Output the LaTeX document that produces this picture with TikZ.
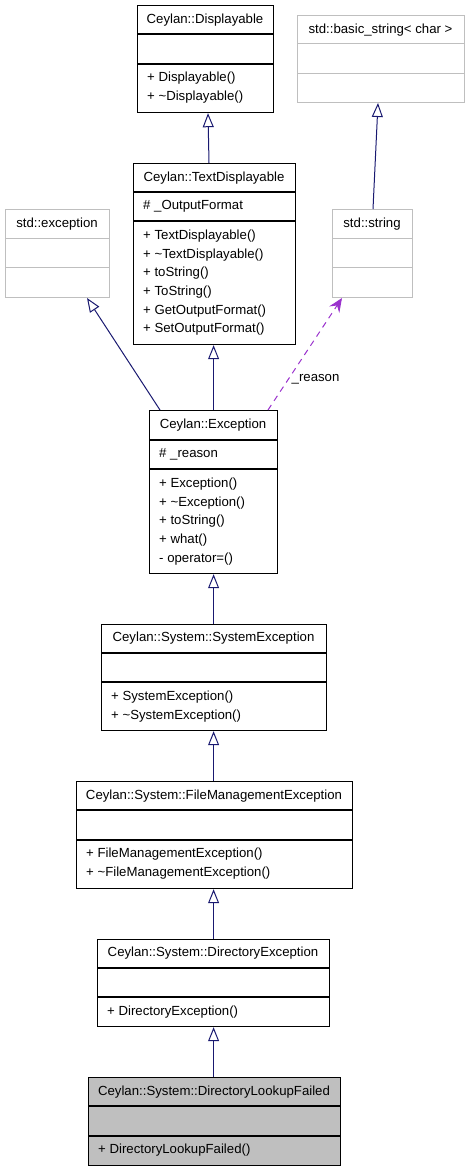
\documentclass[tikz,border=0pt]{standalone}
\usepackage{fontspec}
\setmainfont{Liberation Sans}
\usetikzlibrary{arrows.meta,calc}

\definecolor{edgeblue}{HTML}{191970}
\definecolor{reasonpurple}{HTML}{9A32CD}
\definecolor{extgray}{HTML}{BFBFBF}

\tikzset{
  classbox/.style={rectangle,draw=black,line width=1.2pt,fill=white,inner sep=0pt},
  classboxsep/.style={draw=black,line width=1.2pt},
  currentbox/.style={classbox,fill=extgray},
  currentboxsep/.style={classboxsep},
  extbox/.style={rectangle,draw=extgray,line width=1pt,fill=white,inner sep=0pt},
  extboxsep/.style={draw=extgray,line width=1pt},
  title/.style={font=\fontsize{13.2}{15}\selectfont,inner sep=0pt,text height=9.5pt,text depth=0pt},
  member/.style={title,anchor=west},
  inherit/.style={draw=edgeblue,line width=1pt,-{Triangle[open,length=14pt,width=11pt,fill=white]}},
  usage/.style={draw=reasonpurple,line width=1pt,dash pattern=on 6pt off 5pt,
    -{Stealth[length=14pt,width=12pt,inset=5pt]}},
  edgelabel/.style={font=\fontsize{13.2}{15}\selectfont,inner sep=0pt,text height=9.5pt,text depth=0pt}
}

% box with title, attribute and method compartments
\newcommand{\umlbox}[8]{%
  \node[#1,anchor=north west,minimum width={(#5-#3)*1pt},minimum height={(#6-#4)*1pt}] (#2) at (#3,#4) {};
  \draw[#1sep] (#3,#7) -- (#5,#7);
  \draw[#1sep] (#3,#8) -- (#5,#8);
}

\begin{document}
\begin{tikzpicture}[x=1pt,y=-1pt]
  \useasboundingbox (0,0) rectangle (468,1171);

  % classes
  \umlbox{classbox}{disp}{137}{5}{273}{112}{34}{64}
  \node[title] (disp-t) at (205,19) {Ceylan::Displayable};
  \node[member] (disp-m1) at (147,77) {+ Displayable()};
  \node[member] (disp-m2) at (147,96) {+ \textasciitilde Displayable()};

  \umlbox{extbox}{bstr}{297}{15}{464}{102}{43}{73}
  \node[title] (bstr-t) at (380.5,29) {std::basic\_string< char >};

  \umlbox{classbox}{textdisp}{133}{163}{295}{344}{192}{221}
  \node[title] (textdisp-t) at (214,176.5) {Ceylan::TextDisplayable};
  \node[member] (textdisp-a1) at (143,205) {\# \_OutputFormat};
  \foreach \m [count=\i] in {{+ TextDisplayable()},{+ \textasciitilde TextDisplayable()},
      {+ toString()},{+ ToString()},{+ GetOutputFormat()},{+ SetOutputFormat()}}
    \node[member] (textdisp-m\i) at (143,{235+18.6*(\i-1)}) {\m};

  \umlbox{extbox}{stdexc}{5}{209}{109}{297}{238}{267}
  \node[title] (stdexc-t) at (57,223) {std::exception};

  \umlbox{extbox}{stdstr}{332}{209}{412}{297}{238}{267}
  \node[title] (stdstr-t) at (372,223) {std::string};

  \umlbox{classbox}{exc}{149}{410}{277}{573}{440}{469}
  \node[title] (exc-t) at (213,424) {Ceylan::Exception};
  \node[member] (exc-a1) at (159,453) {\# \_reason};
  \foreach \m [count=\i] in {{+ Exception()},{+ \textasciitilde Exception()},
      {+ toString()},{+ what()},{- operator=()}}
    \node[member] (exc-m\i) at (159,{483+18.6*(\i-1)}) {\m};

  \umlbox{classbox}{sysexc}{101}{624}{326}{730}{653}{682}
  \node[title] (sysexc-t) at (213.5,637) {Ceylan::System::SystemException};
  \node[member] (sysexc-m1) at (111,696) {+ SystemException()};
  \node[member] (sysexc-m2) at (111,715) {+ \textasciitilde SystemException()};

  \umlbox{classbox}{filemgmt}{76}{781}{352}{888}{810}{840}
  \node[title] (filemgmt-t) at (214,794.5) {Ceylan::System::FileManagementException};
  \node[member] (filemgmt-m1) at (86,853) {+ FileManagementException()};
  \node[member] (filemgmt-m2) at (86,872) {+ \textasciitilde FileManagementException()};

  \umlbox{classbox}{direxc}{97}{939}{329}{1026}{968}{997}
  \node[title] (direxc-t) at (213,952) {Ceylan::System::DirectoryException};
  \node[member] (direxc-m1) at (107,1010.5) {+ DirectoryException()};

  \umlbox{currentbox}{lookup}{88}{1077}{340}{1165}{1106}{1136}
  \node[title] (lookup-t) at (214,1090.5) {Ceylan::System::DirectoryLookupFailed};
  \node[member] (lookup-m1) at (98,1148.5) {+ DirectoryLookupFailed()};

  % inheritance and usage
  \draw[inherit] ($(textdisp.north west)+(76,0)$) -- ($(disp.south west)+(71,0)$);
  \draw[inherit] ($(stdstr.north west)+(41,0)$) -- ($(bstr.south west)+(81,0)$);
  \draw[inherit] ($(exc.north west)+(11,0)$) -- ($(stdexc.south west)+(82,0)$);
  \draw[inherit] (exc.north) -- (exc.north |- textdisp.south);
  \draw[usage] ($(exc.north west)+(119,0)$) -- node[edgelabel,pos=0.3,anchor=west,xshift=1pt] (reason-l) {\_reason}
    ($(stdstr.south west)+(10,0)$);
  \draw[inherit] (exc.south |- sysexc.north) -- (exc.south);
  \draw[inherit] (exc.south |- filemgmt.north) -- (exc.south |- sysexc.south);
  \draw[inherit] (exc.south |- direxc.north) -- (exc.south |- filemgmt.south);
  \draw[inherit] (exc.south |- lookup.north) -- (exc.south |- direxc.south);
\end{tikzpicture}
\end{document}
